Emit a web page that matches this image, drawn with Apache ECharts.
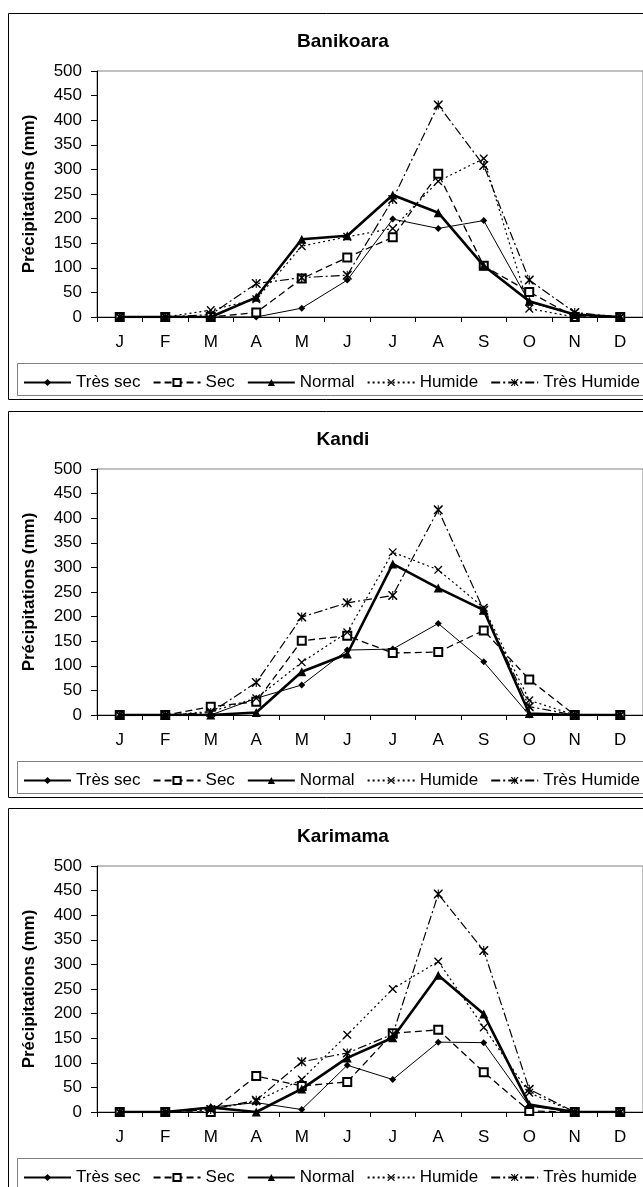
<!DOCTYPE html>
<html>
<head>
<meta charset="utf-8">
<script src="https://cdn.jsdelivr.net/npm/echarts@6/dist/echarts.min.js"></script>
<style>
html,body{margin:0;padding:0;background:#fff;}
#c{width:643px;height:1187px;}
</style>
</head>
<body>
<div id="c"></div>
<script>
// ---- data ----
const stations = ['Banikoara', 'Kandi', 'Karimama'];
const months = ['J','F','M','A','M','J','J','A','S','O','N','D'];
const namesA = ['Très sec','Sec','Normal','Humide','Très Humide'];
const namesB = ['Très sec','Sec','Normal','Humide','Très humide'];
const yAxisTitle = 'Précipitations (mm)';

const banTresSec    = [0,0,0,0,18,75,199,180,196,30,5,0];
const banSec        = [0,0,0,9,78,121,162,291,104,51,0,0];
const banNormal     = [0,0,0,40,158,165,248,212,104,32,5,0];
const banHumide     = [0,0,14,36,144,163,180,276,322,17,0,0];
const banTresHumide = [0,0,5,68,80,85,239,431,308,75,9,0];

const kanTresSec    = [0,0,0,34,61,132,134,186,108,0,0,0];
const kanSec        = [0,0,17,27,151,161,126,128,172,72,0,0];
const kanNormal     = [0,0,0,5,88,124,307,258,213,3,0,0];
const kanHumide     = [0,0,7,34,107,168,331,295,218,30,0,0];
const kanTresHumide = [0,0,5,66,199,228,243,417,213,17,0,0];

const karTresSec    = [0,0,10,19,5,95,66,142,141,12,0,0];
const karSec        = [0,0,0,73,53,61,160,167,81,2,0,0];
const karNormal     = [0,0,9,0,47,110,151,278,199,15,0,0];
const karHumide     = [0,0,5,22,66,157,250,306,172,39,0,0];
const karTresHumide = [0,0,5,24,102,120,158,443,328,46,0,0];

const panelData = [
  [banTresSec, banSec, banNormal, banHumide, banTresHumide],
  [kanTresSec, kanSec, kanNormal, kanHumide, kanTresHumide],
  [karTresSec, karSec, karNormal, karHumide, karTresHumide]
];
const panelNames = [namesA, namesA, namesB];

// ---- styling ----
const FONT = 'Liberation Sans, Arial, sans-serif';
const panelTops = [13, 411, 808];
const crossPath = 'path://M0,0L1.2,0L10,8.8L10,10L8.8,10L0,1.2Z M8.8,0L10,0L10,1.2L1.2,10L0,10L0,8.8Z';
const starPath = 'path://M0,0L1.2,0L10,8.8L10,10L8.8,10L0,1.2Z M8.8,0L10,0L10,1.2L1.2,10L0,10L0,8.8Z M4.4,0L5.6,0L5.6,10L4.4,10Z';

const styles = [
  {symbol:'diamond', symbolSize:7, item:{color:'#000'}, line:{color:'#000', width:1, type:'solid'}},
  {symbol:'emptyRect', symbolSize:8, item:{color:'#000', borderWidth:1}, line:{color:'#000', width:1.3, type:[7,4]}},
  {symbol:'triangle', symbolSize:9, item:{color:'#000'}, line:{color:'#000', width:2.6, type:'solid'}},
  {symbol:crossPath, symbolSize:8, item:{color:'#000'}, line:{color:'#000', width:1.2, type:[2,3]}},
  {symbol:starPath, symbolSize:9, item:{color:'#000'}, line:{color:'#000', width:1.2, type:[9,3,2,3]}}
];

const grids = [], xAxes = [], yAxes = [], series = [], legends = [], graphics = [];

panelTops.forEach((T, p) => {
  grids.push({left:97, top:T+58, width:546, height:246, show:true, borderColor:'#808080', borderWidth:1, containLabel:false});
  xAxes.push({
    type:'category', gridIndex:p, data:months, boundaryGap:true,
    axisLine:{lineStyle:{color:'#000', width:1}},
    axisTick:{show:true, length:5, interval:0, lineStyle:{color:'#000'}},
    axisLabel:{color:'#000', fontSize:17, fontFamily:FONT, margin:17, interval:0},
    splitLine:{show:false}
  });
  yAxes.push({
    type:'value', gridIndex:p, min:0, max:500, interval:50,
    name:yAxisTitle, nameLocation:'middle', nameGap:59, nameRotate:90,
    nameTextStyle:{color:'#000', fontSize:17, fontWeight:'bold', fontFamily:FONT},
    axisLine:{show:true, lineStyle:{color:'#000', width:1}},
    axisTick:{show:true, length:6, lineStyle:{color:'#000'}},
    axisLabel:{color:'#000', fontSize:17, fontFamily:FONT, margin:15},
    splitLine:{show:false}
  });
  panelData[p].forEach((vals, k) => {
    const s = styles[k];
    series.push({
      type:'line', name:panelNames[p][k], xAxisIndex:p, yAxisIndex:p,
      data:vals, symbol:s.symbol, symbolSize:s.symbolSize, showSymbol:true, showAllSymbol:true,
      itemStyle:s.item, lineStyle:s.line, z: k===2 ? 5 : 3, animation:false
    });
  });
  legends.push({
    data:panelNames[p], left:18, top:T+356, width:760, orient:'horizontal',
    itemWidth:47, itemHeight:9, itemGap:12,
    textStyle:{color:'#000', fontSize:17, fontFamily:FONT},
    selectedMode:false
  });
  // outer panel box
  graphics.push({type:'rect', shape:{x:8.5, y:T+0.5, width:700, height:386}, style:{fill:null, stroke:'#000', lineWidth:1}, z:-10});
  // legend box
  graphics.push({type:'rect', shape:{x:17.5, y:T+350.5, width:700, height:32}, style:{fill:null, stroke:'#808080', lineWidth:1}, z:-10});
  // title
  graphics.push({type:'text', x:343, y:T+29, style:{text:stations[p], font:'bold 19px ' + FONT, fill:'#000', align:'center', verticalAlign:'middle'}});
});

const chart = echarts.init(document.getElementById('c'), null, {renderer:'canvas'});
chart.setOption({
  backgroundColor:'#fff',
  animation:false,
  grid:grids, xAxis:xAxes, yAxis:yAxes, series:series, legend:legends, graphic:graphics
});
</script>
</body>
</html>
